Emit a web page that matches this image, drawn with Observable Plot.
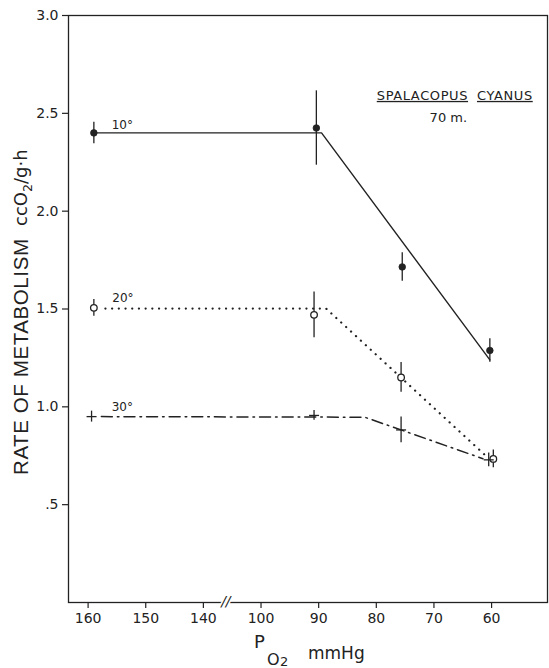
<!DOCTYPE html>
<html>
<head>
<meta charset="utf-8">
<script src="https://cdn.jsdelivr.net/npm/d3@7"></script>
<script src="https://cdn.jsdelivr.net/npm/@observablehq/plot@0.6"></script>
<style>
  html, body { margin: 0; padding: 0; background: #fff; }
  #chart svg { display: block; }
</style>
</head>
<body>
<div id="chart"></div>
<script>
// ---- Data ----
// x axis: P_O2 (mmHg), reversed, with a break between 140 and 100
const xTickValues = [160, 150, 140, 100, 90, 80, 70, 60];
const xTickLabels = ["160", "150", "140", "100", "90", "80", "70", "60"];
const yTickValues = [0.5, 1.0, 1.5, 2.0, 2.5, 3.0];
const yTickLabels = [".5", "1.0", "1.5", "2.0", "2.5", "3.0"];

const temps = ["10°", "20°", "30°"];

// observed means and error bars
const p10 = [159, 90.4, 75.5, 60.3];
const rate10 = [2.40, 2.425, 1.715, 1.288];
const err10 = [0.055, 0.19, 0.073, 0.06];

const p20 = [159, 90.8, 75.7, 59.7];
const rate20 = [1.506, 1.47, 1.15, 0.734];
const err20 = [0.043, 0.117, 0.076, 0.045];

const p30 = [159.4, 90.8, 75.7, 60.5];
const rate30 = [0.95, 0.956, 0.882, 0.729];
const err30 = [0.028, 0.025, 0.066, 0.035];

// fitted broken lines
const fit10P = [159, 89.5, 60.3];
const fit10R = [2.40, 2.40, 1.24];
const fit20P = [157, 88.7, 61.0];
const fit20R = [1.502, 1.502, 0.75];
const fit30P = [157.7, 82.0, 61.5];
const fit30R = [0.95, 0.947, 0.735];

// temperature labels
const labelP = [155.9, 155.8, 155.9];
const labelR = [2.44, 1.553, 0.996];

// species annotation
const speciesWords = ["SPALACOPUS", "CYANUS"];
const speciesP = [72.0, 57.7];
const speciesR = [2.59, 2.59];
const altitudeText = ["70 m."];
const altitudeP = [67.5];
const altitudeR = [2.475];

// axis break marker location (axis units between 140 and 100)
const breakPos = [106.1];

// ---- helpers ----
// compress the broken axis: values >= 120 are shifted down by 30
const pos = p => (p >= 120 ? p - 30 : p);
const xTickMap = new Map(xTickValues.map((v, i) => [pos(v), xTickLabels[i]]));
const yTickMap = new Map(yTickValues.map((v, i) => [v, yTickLabels[i]]));

const obs = (P, R, E, t) => P.map((p, i) => ({p, r: R[i], e: E[i], t}));
const obs10 = obs(p10, rate10, err10, temps[0]);
const obs20 = obs(p20, rate20, err20, temps[1]);
const obs30 = obs(p30, rate30, err30, temps[2]);
const fit = (P, R) => P.map((p, i) => ({p, r: R[i]}));
const labels = temps.map((t, i) => ({t, p: labelP[i], r: labelR[i]}));
const species = speciesWords.map((w, i) => ({w, p: speciesP[i], r: speciesR[i]}));
const altitude = altitudeText.map((w, i) => ({w, p: altitudeP[i], r: altitudeR[i]}));

const ink = "#222";
const hbar = {
  draw(ctx, size) {
    const r = Math.sqrt(size / Math.PI);
    ctx.moveTo(-r, 0);
    ctx.lineTo(r, 0);
  }
};

const X = d => pos(d.p);

const chart = Plot.plot({
  width: 549,
  height: 668,
  marginLeft: 68,
  marginRight: 2,
  marginTop: 15,
  marginBottom: 66,
  style: {fontFamily: "DejaVu Sans", fontSize: "14px", background: "#fff", color: ink},
  x: {type: "linear", domain: [133.4, 50.3], axis: null},
  y: {type: "linear", domain: [0, 3], axis: null},
  marks: [
    Plot.frame({stroke: ink, strokeWidth: 1.3}),
    Plot.axisY(yTickValues, {
      tickSize: 6, tickPadding: 4, stroke: ink, strokeWidth: 1.2,
      tickFormat: d => yTickMap.get(d), fontSize: 14, label: null
    }),
    Plot.axisX(xTickValues.map(pos), {
      tickSize: 6, tickPadding: 5, stroke: ink, strokeWidth: 1.2,
      tickFormat: d => xTickMap.get(d), fontSize: 14, label: null
    }),
    Plot.text(breakPos, {
      x: d => d, y: () => 0, text: () => "//", fontSize: 14, fontStyle: "italic",
      fill: ink, stroke: "#fff", strokeWidth: 3, dy: -1
    }),
    // fitted lines
    Plot.line(fit(fit10P, fit10R), {x: X, y: "r", stroke: ink, strokeWidth: 1.4}),
    Plot.line(fit(fit20P, fit20R), {
      x: X, y: "r", stroke: ink, strokeWidth: 2.2,
      strokeDasharray: "0.1,6.6", strokeLinecap: "round"
    }),
    Plot.line(fit(fit30P, fit30R), {
      x: X, y: "r", stroke: ink, strokeWidth: 1.5, strokeDasharray: "11,5,1.6,5"
    }),
    // error bars
    Plot.ruleX([...obs10, ...obs20, ...obs30], {
      x: X, y1: d => d.r - d.e, y2: d => d.r + d.e, stroke: ink, strokeWidth: 1.3
    }),
    // markers
    Plot.dot(obs10, {x: X, y: "r", r: 3.3, fill: ink, stroke: ink, strokeWidth: 0.8}),
    Plot.dot(obs20, {x: X, y: "r", r: 3.3, fill: "#fff", stroke: ink, strokeWidth: 1.3}),
    Plot.dot(obs30, {x: X, y: "r", r: 5, symbol: hbar, fill: "none", stroke: ink, strokeWidth: 1.3}),
    // labels
    Plot.text(labels, {x: X, y: "r", text: "t", textAnchor: "start", fontSize: 12, fill: ink}),
    Plot.text(species, {x: X, y: "r", text: "w", fontSize: 13, fill: ink}),
    Plot.text(altitude, {x: X, y: "r", text: "w", fontSize: 13, fill: ink})
  ]
});

document.getElementById("chart").appendChild(chart);

const svg = d3.select(chart);
svg.selectAll("text")
  .filter(function () { return speciesWords.includes(this.textContent); })
  .style("text-decoration", "underline")
  .style("letter-spacing", "0.6px");

// y-axis title, two parts (rotated, reading bottom to top)
svg.append("text")
  .attr("transform", "translate(28,475) rotate(-90)")
  .attr("text-anchor", "start")
  .attr("font-family", "Liberation Sans, Arial, sans-serif")
  .attr("font-size", 20.5)
  .attr("textLength", 236)
  .attr("lengthAdjust", "spacing")
  .attr("fill", ink)
  .text("RATE OF METABOLISM");

const yt2 = svg.append("text")
  .attr("transform", "translate(27,226) rotate(-90)")
  .attr("text-anchor", "start")
  .attr("font-family", "DejaVu Sans")
  .attr("fill", ink);
yt2.append("tspan").text("ccO").attr("font-size", 18);
yt2.append("tspan").text("2").attr("dy", 5).attr("font-size", 12.5);
yt2.append("tspan").text("/g·h").attr("dy", -5).attr("font-size", 18);

// x-axis title (separate pieces: P, subscript O2, unit)
const xTitle = [
  {t: "P", x: 254, y: 648, s: 18},
  {t: "O", x: 267, y: 665, s: 16},
  {t: "2", x: 280, y: 666, s: 13},
  {t: "mmHg", x: 308, y: 659, s: 17}
];
svg.selectAll("text.xtitle").data(xTitle).join("text")
  .attr("class", "xtitle")
  .attr("x", d => d.x).attr("y", d => d.y)
  .attr("text-anchor", "start")
  .attr("font-size", d => d.s)
  .attr("font-family", "DejaVu Sans")
  .attr("fill", ink)
  .text(d => d.t);
</script>
</body>
</html>
